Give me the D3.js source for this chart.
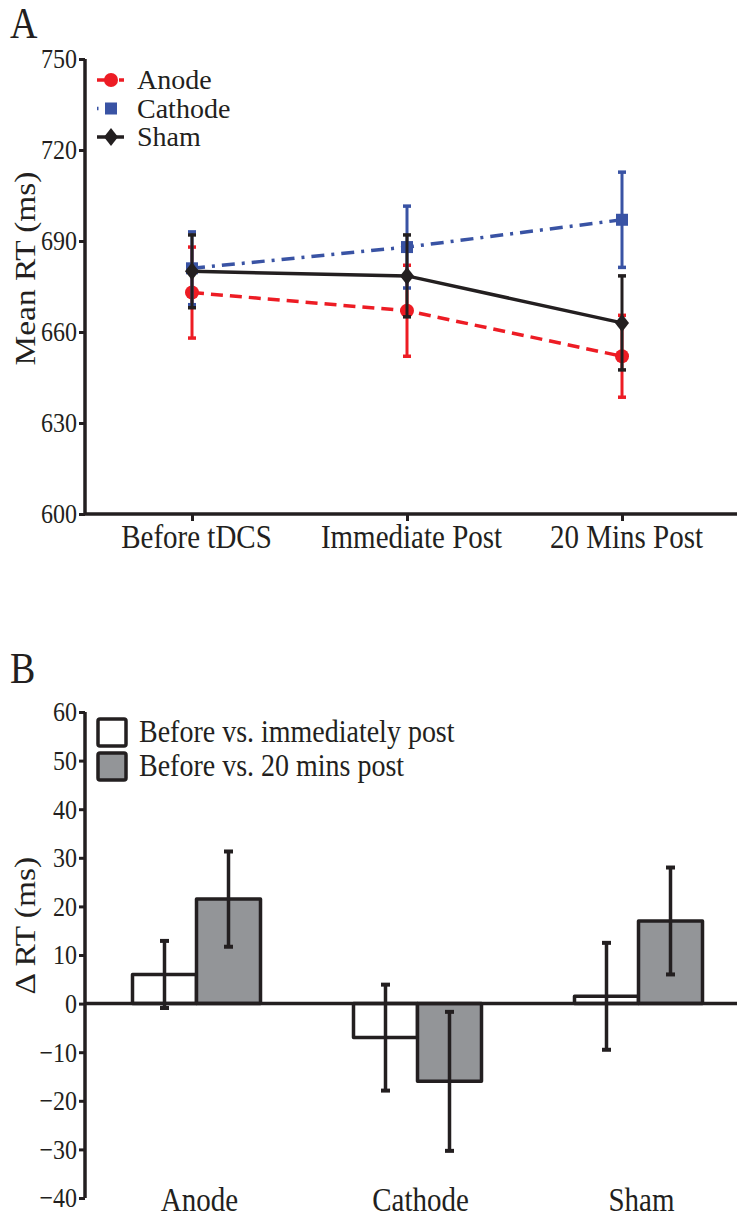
<!DOCTYPE html>
<html>
<head>
<meta charset="utf-8">
<script src="https://cdn.jsdelivr.net/npm/d3@7"></script>
<style>
  html, body { margin: 0; padding: 0; background: #fff; }
  svg { display: block; }
  text { font-family: "Liberation Serif", "Times New Roman", serif; fill: #231F20; }
</style>
</head>
<body>
<svg id="fig" width="737" height="1220"></svg>
<script>
// ---- Panel A: mean reaction time at each session ----
const timepoints = ["Before tDCS", "Immediate Post", "20 Mins Post"];
const rtTicks = [600, 630, 660, 690, 720, 750];
const anodeMean = [673, 667, 652];
const anodeErr = [15, 15, 13.5];
const cathodeMean = [681, 688, 697];
const cathodeErr = [12, 13.5, 15.7];
const shamMean = [680, 678.5, 663];
const shamErr = [12, 13.5, 15.5];

// ---- Panel B: change in reaction time per stimulation group ----
const groups = ["Anode", "Cathode", "Sham"];
const contrasts = ["Before vs. immediately post", "Before vs. 20 mins post"];
const deltaImmediate = [6, -7, 1.5];
const deltaImmediateErr = [6.9, 10.9, 11];
const delta20 = [21.5, -16, 17];
const delta20Err = [9.8, 14.3, 11];
const deltaTicks = [-40, -30, -20, -10, 0, 10, 20, 30, 40, 50, 60];

const INK = "#231F20";
const RED = "#ED1C24";
const BLUE = "#3953A4";
const GREY = "#939598";
const K = 1.15; // vertical stretch applied to the lettering

const svg = d3.select("#fig");

// text placed at (x, y) with tall letterforms (stretch k)
function label(parent, x, y, size, str, anchor, rotate, k) {
  const s = k === undefined ? K : k;
  return parent.append("text")
    .attr("transform", `translate(${x},${y}) scale(1,${s})` + (rotate ? ` rotate(${rotate})` : ""))
    .attr("text-anchor", anchor || "start")
    .style("font-size", size + "px")
    .text(str);
}

// ================= Panel A =================
const xA = d3.scalePoint().domain(timepoints).range([192, 622]);
const yA = d3.scaleLinear().domain([600, 750]).range([514, 59]);

label(svg, 10, 38, 38, "A");

// y axis
const gyA = svg.append("g").attr("transform", "translate(85,0)")
  .call(d3.axisLeft(yA).tickValues(rtTicks).tickSize(6).tickPadding(2).tickFormat(d3.format("d")));
gyA.select(".domain").attr("d", `M0,${yA(750)}V${yA(600)}`).attr("stroke", INK).attr("stroke-width", 3.5);
gyA.selectAll(".tick line").attr("stroke", INK).attr("stroke-width", 3);
gyA.selectAll(".tick text").style("font-size", "24px").attr("fill", INK)
  .attr("dy", "0.32em").attr("transform", `scale(1,${K})`);

// x axis
const gxA = svg.append("g").attr("transform", `translate(0,${yA(600)})`)
  .call(d3.axisBottom(xA).tickSize(7));
gxA.select(".domain").attr("d", "M85,0H737").attr("stroke", INK).attr("stroke-width", 3.5);
gxA.selectAll(".tick line").attr("stroke", INK).attr("stroke-width", 3);
gxA.selectAll(".tick text").style("font-size", "29px").attr("fill", INK)
  .attr("y", 0).attr("dy", 0).attr("transform", `translate(4,34) scale(1,${K})`);

label(svg, 35, (yA(690) + yA(660)) / 2 - 18, 29, "Mean RT (ms)", "middle", -90);

const seriesA = [
  { name: "Anode", mean: anodeMean, err: anodeErr, color: RED, dash: "12,7", shape: "circle" },
  { name: "Cathode", mean: cathodeMean, err: cathodeErr, color: BLUE, dash: "13,7,3,7", shape: "square" },
  { name: "Sham", mean: shamMean, err: shamErr, color: INK, dash: null, shape: "diamond" }
];

function drawMarker(g, shape, x, y, color) {
  if (shape === "circle") {
    g.append("circle").attr("cx", x).attr("cy", y).attr("r", 7).attr("fill", color);
  } else if (shape === "square") {
    g.append("rect").attr("x", x - 6).attr("y", y - 6).attr("width", 12).attr("height", 12).attr("fill", color);
  } else {
    g.append("path").attr("d", `M${x},${y - 9}L${x + 7},${y}L${x},${y + 9}L${x - 7},${y}Z`).attr("fill", color);
  }
}

const lineA = d3.line().x((d, i) => xA(timepoints[i])).y(d => yA(d));

seriesA.forEach(s => {
  const g = svg.append("g");
  g.append("path").datum(s.mean).attr("d", lineA)
    .attr("fill", "none").attr("stroke", s.color).attr("stroke-width", 3.5)
    .attr("stroke-dasharray", s.dash);
  s.mean.forEach((m, i) => {
    const x = xA(timepoints[i]);
    const y0 = yA(m - s.err[i]), y1 = yA(m + s.err[i]);
    g.append("line").attr("x1", x).attr("x2", x).attr("y1", y0).attr("y2", y1)
      .attr("stroke", s.color).attr("stroke-width", 3);
    [y0, y1].forEach(y => g.append("line").attr("x1", x - 4).attr("x2", x + 4)
      .attr("y1", y).attr("y2", y).attr("stroke", s.color).attr("stroke-width", 3.5));
    drawMarker(g, s.shape, x, yA(m), s.color);
  });
});

// legend A
seriesA.forEach((s, i) => {
  const y = 80 + i * 28.5;
  const g = svg.append("g");
  if (s.shape === "square") {
    g.append("line").attr("x1", 97).attr("x2", 98.5).attr("y1", y).attr("y2", y)
      .attr("stroke", s.color).attr("stroke-width", 3.5);
  } else {
    g.append("line").attr("x1", 97).attr("x2", 124).attr("y1", y).attr("y2", y)
      .attr("stroke", s.color).attr("stroke-width", 3.5).attr("stroke-dasharray", s.dash ? "8,3" : null);
  }
  drawMarker(g, s.shape, 111, y, s.color);
  label(g, 137, y + 9, 28, s.name, "start", null, 1);
});

// ================= Panel B =================
const xB = d3.scaleBand().domain(groups).range([86, 749]);
const xSub = d3.scaleBand().domain(contrasts).range([-64, 64]);
const yB = d3.scaleLinear().domain([-40, 60]).range([1198, 712]);

label(svg, 10, 683, 38, "B");

const gyB = svg.append("g").attr("transform", "translate(85,0)")
  .call(d3.axisLeft(yB).tickValues(deltaTicks).tickSize(6).tickPadding(2)
    .tickFormat(d => d < 0 ? "\u2212" + Math.abs(d) : d));
gyB.select(".domain").attr("d", `M0,${yB(60)}V${yB(-40)}`).attr("stroke", INK).attr("stroke-width", 3.5);
gyB.selectAll(".tick line").attr("stroke", INK).attr("stroke-width", 3);
gyB.selectAll(".tick text").style("font-size", "24px").attr("fill", INK)
  .attr("dy", "0.32em").attr("transform", `scale(1,${K})`);

label(svg, 35, yB(15) - 5, 29, "\u0394 RT (ms)", "middle", -90);

const barData = [];
groups.forEach((grp, i) => {
  barData.push({ grp, key: contrasts[0], v: deltaImmediate[i], e: deltaImmediateErr[i], fill: "#fff" });
  barData.push({ grp, key: contrasts[1], v: delta20[i], e: delta20Err[i], fill: GREY });
});

const bars = svg.append("g");
bars.selectAll("rect").data(barData).join("rect")
  .attr("x", d => xB(d.grp) + xB.bandwidth() / 2 + xSub(d.key))
  .attr("width", xSub.bandwidth())
  .attr("y", d => yB(Math.max(0, d.v)))
  .attr("height", d => Math.abs(yB(d.v) - yB(0)))
  .attr("fill", d => d.fill).attr("stroke", INK).attr("stroke-width", 3.5)
  .attr("stroke-linejoin", "round");

// zero line
svg.append("line").attr("x1", 85).attr("x2", 737).attr("y1", yB(0)).attr("y2", yB(0))
  .attr("stroke", INK).attr("stroke-width", 3.5);

const errs = svg.append("g");
barData.forEach(d => {
  const x = xB(d.grp) + xB.bandwidth() / 2 + xSub(d.key) + xSub.bandwidth() / 2;
  const y0 = yB(d.v - d.e), y1 = yB(d.v + d.e);
  errs.append("line").attr("x1", x).attr("x2", x).attr("y1", y0).attr("y2", y1)
    .attr("stroke", INK).attr("stroke-width", 3.5);
  [y0, y1].forEach(y => errs.append("line").attr("x1", x - 4.5).attr("x2", x + 4.5)
    .attr("y1", y).attr("y2", y).attr("stroke", INK).attr("stroke-width", 4));
});

// group labels
const gl = svg.append("g");
groups.forEach(grp => label(gl, xB(grp) + xB.bandwidth() / 2 + 3, 1211, 29, grp, "middle"));

// legend B
contrasts.forEach((c, i) => {
  const y = 719 + i * 34;
  svg.append("rect").attr("x", 98).attr("y", y).attr("width", 28).attr("height", 27)
    .attr("rx", 2).attr("fill", i === 0 ? "#fff" : GREY).attr("stroke", INK).attr("stroke-width", 3.5);
  label(svg, 139, y + 23, 28, c);
});
</script>
</body>
</html>
